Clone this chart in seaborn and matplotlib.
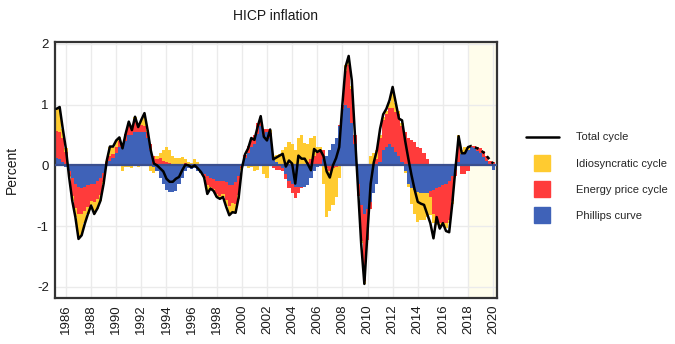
import numpy as np
import pandas as pd
import matplotlib
matplotlib.use("Agg")
import matplotlib.pyplot as plt
import seaborn as sns
from matplotlib.lines import Line2D

# ---------------- data (quarterly, 1985Q2 .. 2020Q1) ----------------
quarters = pd.period_range("1985Q2", "2020Q1", freq="Q")

total_cycle = [
    0.93, 0.96, 0.60,
    0.27, -0.19, -0.58, -0.85,
    -1.21, -1.15, -0.96, -0.80,
    -0.66, -0.80, -0.71, -0.58,
    -0.30, 0.08, 0.31, 0.31,
    0.41, 0.46, 0.28, 0.52,
    0.72, 0.58, 0.80, 0.63,
    0.75, 0.86, 0.58, 0.25,
    0.03, 0.00, -0.05, -0.10,
    -0.22, -0.27, -0.27, -0.22,
    -0.19, -0.08, 0.01, 0.00,
    -0.03, 0.00, -0.05, -0.11,
    -0.20, -0.47, -0.38, -0.42,
    -0.52, -0.55, -0.52, -0.68,
    -0.82, -0.77, -0.78, -0.52,
    -0.05, 0.18, 0.28, 0.45,
    0.42, 0.63, 0.81, 0.47,
    0.41, 0.59, 0.10, 0.13,
    0.16, 0.19, -0.02, 0.08,
    0.03, -0.30, 0.16, 0.11,
    0.11, 0.02, -0.08, 0.27,
    0.22, 0.25, 0.15, -0.10,
    -0.20, 0.00, 0.12, 0.30,
    1.00, 1.62, 1.80, 1.40,
    0.50, -0.40, -1.30, -1.95,
    -1.10, -0.30, 0.05, 0.25,
    0.60, 0.84, 0.93, 1.07,
    1.29, 1.03, 0.77, 0.74,
    0.40, 0.11, -0.16, -0.40,
    -0.60, -0.63, -0.65, -0.80,
    -0.95, -1.20, -0.85, -1.04,
    -0.95, -1.08, -1.10, -0.62,
    -0.05, 0.48, 0.20, 0.20,
    0.30, 0.32, 0.30, 0.28,
    0.25, 0.21, 0.15, 0.09,
    0.03,
]

phillips_curve = [
    0.12, 0.10, 0.05,
    -0.02, -0.10, -0.20, -0.30,
    -0.35, -0.38, -0.35, -0.33,
    -0.30, -0.30, -0.25, -0.20,
    -0.12, 0.03, 0.08, 0.12,
    0.20, 0.30, 0.32, 0.40,
    0.50, 0.50, 0.55, 0.55,
    0.55, 0.55, 0.45, 0.25,
    -0.03, -0.10, -0.20, -0.30,
    -0.40, -0.44, -0.44, -0.42,
    -0.30, -0.20, -0.10, -0.05,
    -0.06, -0.05, -0.10, -0.12,
    -0.15, -0.18, -0.20, -0.22,
    -0.25, -0.25, -0.25, -0.27,
    -0.32, -0.32, -0.28, -0.18,
    0.02, 0.12, 0.20, 0.30,
    0.35, 0.52, 0.65, 0.50,
    0.55, 0.45, 0.12, 0.05,
    0.03, -0.05, -0.15, -0.25,
    -0.30, -0.35, -0.36, -0.36,
    -0.35, -0.33, -0.20, -0.10,
    -0.03, 0.03, 0.10, 0.15,
    0.25, 0.35, 0.45, 0.65,
    0.92, 1.00, 0.95, 0.70,
    0.35, -0.30, -0.65, -0.80,
    -0.72, -0.60, -0.45, -0.30,
    0.05, 0.25, 0.30, 0.35,
    0.30, 0.22, 0.15, 0.05,
    -0.10, -0.30, -0.38, -0.40,
    -0.43, -0.45, -0.45, -0.45,
    -0.42, -0.40, -0.38, -0.35,
    -0.32, -0.30, -0.25, -0.18,
    -0.08, 0.05, 0.18, 0.22,
    0.25, 0.30, 0.28, 0.24,
    0.20, 0.14, 0.08, 0.02,
    -0.08,
]

energy_price_cycle = [
    0.45, 0.45, 0.40,
    0.22, -0.07, -0.30, -0.40,
    -0.45, -0.42, -0.40, -0.35,
    -0.28, -0.30, -0.30, -0.28,
    -0.15, 0.03, 0.08, 0.07,
    0.10, 0.10, 0.05, 0.12,
    0.20, 0.12, 0.22, 0.10,
    0.12, 0.10, 0.10, 0.10,
    0.15, 0.10, 0.12, 0.08,
    0.06, 0.04, 0.03, 0.02,
    0.02, 0.03, 0.04, 0.03,
    0.02, 0.03, 0.02, 0.00,
    -0.05, -0.15, -0.15, -0.17,
    -0.22, -0.25, -0.22, -0.30,
    -0.35, -0.30, -0.35, -0.30,
    -0.05, 0.05, 0.12, 0.15,
    0.15, 0.18, 0.15, 0.10,
    0.05, 0.08, -0.05, -0.08,
    -0.08, -0.05, -0.08, -0.12,
    -0.15, -0.18, -0.10, -0.02,
    0.02, 0.05, 0.10, 0.15,
    0.20, 0.22, 0.15, -0.05,
    -0.10, -0.05, -0.02, 0.02,
    0.08, 0.55, 0.70, 0.55,
    0.15, -0.20, -0.60, -1.10,
    -0.50, -0.12, 0.00, 0.10,
    0.40, 0.50, 0.55, 0.60,
    0.65, 0.65, 0.70, 0.60,
    0.55, 0.45, 0.42, 0.38,
    0.30, 0.28, 0.20, 0.10,
    -0.10, -0.40, -0.50, -0.60,
    -0.62, -0.65, -0.65, -0.40,
    -0.10, 0.30, -0.15, -0.15,
    -0.10, 0.02, 0.04, 0.06,
    0.08, 0.09, 0.08, 0.06,
    0.05,
]

idiosyncratic_cycle = [
    0.36, 0.40, 0.15,
    0.07, -0.02, -0.08, -0.15,
    -0.40, -0.35, -0.20, -0.12,
    -0.08, -0.20, -0.16, -0.10,
    -0.03, 0.02, 0.15, 0.12,
    0.11, 0.06, -0.10, -0.02,
    -0.02, -0.05, 0.03, -0.02,
    0.08, 0.20, 0.03, -0.10,
    -0.10, 0.05, 0.08, 0.18,
    0.25, 0.22, 0.12, 0.10,
    0.10, 0.10, 0.06, 0.02,
    0.02, 0.08, 0.04, 0.03,
    -0.02, -0.10, -0.03, -0.03,
    -0.05, -0.05, -0.05, -0.10,
    -0.15, -0.15, -0.15, -0.08,
    -0.02, 0.00, -0.05, -0.03,
    -0.10, -0.08, 0.00, -0.15,
    -0.20, 0.05, 0.03, 0.12,
    0.15, 0.25, 0.30, 0.38,
    0.35, 0.25, 0.45, 0.50,
    0.35, 0.30, 0.35, 0.33,
    0.10, 0.05, -0.30, -0.80,
    -0.65, -0.60, -0.50, -0.20,
    0.00, 0.10, 0.12, 0.05,
    0.00, 0.00, -0.02, -0.05,
    0.00, 0.15, 0.20, 0.15,
    0.05, 0.05, 0.05, 0.10,
    0.25, 0.15, 0.05, 0.05,
    -0.02, -0.05, -0.25, -0.40,
    -0.50, -0.45, -0.45, -0.40,
    -0.30, -0.15, -0.10, -0.08,
    -0.06, -0.08, -0.05, -0.05,
    0.00, 0.15, 0.08, 0.08,
    0.05, 0.00, 0.00, 0.00,
    0.00, 0.00, 0.00, 0.00,
    0.00,
]

year_ticks = list(range(1986, 2021, 2))
y_ticks = [-2, -1, 0, 1, 2]
forecast_start = 2018

# ---------------- styling ----------------
sns.set_theme(style="white")
plt.rcParams['font.family'] = ['Liberation Sans', 'DejaVu Sans']

BLUE = "#3F62B8"
RED = "#FF3B3B"
YELLOW = "#FFCB30"

df = pd.DataFrame({
    "date": quarters.year + (quarters.quarter - 1) / 4.0,
    "Phillips curve": phillips_curve,
    "Energy price cycle": energy_price_cycle,
    "Idiosyncratic cycle": idiosyncratic_cycle,
    "Total cycle": total_cycle,
})

fig, ax = plt.subplots(figsize=(6.75, 3.44), dpi=100)
fig.subplots_adjust(left=0.0815, right=0.736, top=0.878, bottom=0.134)

ax.axvspan(forecast_start, 2021, color="#FFFDEB", zorder=0.1, lw=0)

pos = np.zeros(len(df))
neg = np.zeros(len(df))
for col, color in [("Phillips curve", BLUE), ("Energy price cycle", RED),
                   ("Idiosyncratic cycle", YELLOW)]:
    v = df[col].to_numpy(dtype=float)
    bottom = np.where(v >= 0, pos, neg)
    ax.bar(df["date"], v, bottom=bottom, width=0.25, color=color,
           linewidth=0, zorder=2)
    pos += np.clip(v, 0, None)
    neg += np.clip(v, None, 0)

ax.axhline(0, color="#3B4F8E", lw=1.6, zorder=3)

solid = df[df["date"] <= forecast_start]
dashed = df[df["date"] >= forecast_start]
sns.lineplot(data=solid, x="date", y="Total cycle", color="black", lw=1.8,
             ax=ax, zorder=4)
sns.lineplot(data=dashed, x="date", y="Total cycle", color="black", lw=1.8,
             ls=(0, (1.5, 1.5)), ax=ax, zorder=4)

ax.set_xlim(1985.13, 2020.29)
ax.set_ylim(-2.18, 2.03)
ax.set_xticks(year_ticks)
ax.set_xticklabels([str(y) for y in year_ticks], rotation=90)
ax.set_yticks(y_ticks)
ax.set_yticklabels([str(v) for v in y_ticks])
ax.set_axisbelow(True)
ax.grid(True, color="#EBEBEB", lw=1.0)
for s in ax.spines.values():
    s.set_visible(True)
    s.set_color("#333333")
    s.set_linewidth(1.6)
ax.tick_params(axis="both", length=2.5, width=0.8, color="#333333",
               labelsize=9.5, labelcolor="#1A1A1A", pad=2)
ax.set_xlabel("")
ax.set_ylabel("Percent", fontsize=10, color="#1A1A1A", labelpad=13)
ax.set_title("HICP inflation", fontsize=10, color="#1A1A1A", pad=16)

handles = [
    Line2D([], [], color="black", lw=1.8),
    Line2D([], [], marker="s", ls="None", markersize=11.5,
           markerfacecolor=YELLOW, markeredgecolor=YELLOW),
    Line2D([], [], marker="s", ls="None", markersize=11.5,
           markerfacecolor=RED, markeredgecolor=RED),
    Line2D([], [], marker="s", ls="None", markersize=11.5,
           markerfacecolor=BLUE, markeredgecolor=BLUE),
]
labels = ["Total cycle", "Idiosyncratic cycle", "Energy price cycle",
          "Phillips curve"]
fig.legend(handles, labels, loc="upper left", bbox_to_anchor=(0.772, 0.628),
           frameon=False, fontsize=8, handlelength=3.0, handletextpad=1.5,
           labelspacing=1.45, borderaxespad=0)

fig.savefig("out.png", dpi=100)
